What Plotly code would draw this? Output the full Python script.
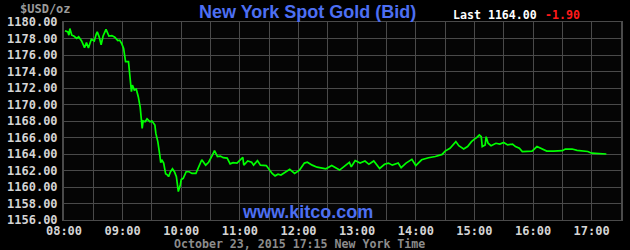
import plotly.graph_objects as go

# ---- data ----
times = ["08:01","08:04","08:05","08:06","08:08","08:10","08:13","08:15","08:18","08:21",
         "08:23","08:25","08:28","08:31","08:33","08:34","08:36","08:38","08:40","08:42",
         "08:43","08:46","08:49","08:52","08:55","08:57","08:59","09:01","09:02","09:03",
         "09:06","09:07","09:08","09:09","09:10","09:12","09:14","09:16","09:18","09:19",
         "09:20","09:21","09:23","09:25","09:28","09:30","09:33","09:34","09:36","09:38",
         "09:39","09:40","09:42","09:44","09:46","09:47","09:49","09:51","09:53","09:55",
         "09:56","09:57","09:59","10:00","10:02","10:04","10:05","10:08","10:11","10:15",
         "10:18","10:21","10:25","10:28","10:32","10:34","10:37","10:40","10:43","10:47",
         "10:50","10:53","10:57","11:00","11:03","11:04","11:08","11:12","11:14","11:18",
         "11:21","11:27","11:30","11:33","11:36","11:39","11:42","11:47","11:51","11:56",
         "12:01","12:06","12:09","12:14","12:19","12:28","12:34","12:42","12:48","12:52",
         "12:54","12:58","13:03","13:08","13:12","13:17","13:23","13:28","13:32","13:36",
         "13:42","13:45","13:50","13:56","14:00","14:06","14:13","14:20","14:27","14:30",
         "14:35","14:38","14:41","14:44","14:49","14:53","14:57","15:00","15:02","15:05",
         "15:07","15:08","15:11","15:12","15:14","15:17","15:22","15:26","15:30","15:34",
         "15:39","15:42","15:46","15:49","15:54","15:59","16:04","16:09","16:14","16:21",
         "16:30","16:33","16:40","16:45","16:51","16:56","17:00","17:14","17:15"]
prices = [1178.95,1178.80,1178.40,1179.20,1178.40,1178.30,1178.00,1178.20,1177.70,1176.90,
          1177.50,1176.85,1177.90,1177.70,1178.55,1178.80,1178.20,1177.25,1178.30,1178.95,
          1179.10,1178.30,1178.35,1178.15,1177.75,1177.80,1177.40,1176.80,1175.70,1175.20,
          1175.20,1174.20,1172.50,1171.55,1172.35,1171.75,1171.85,1170.95,1169.65,1168.00,
          1167.10,1168.00,1167.90,1168.25,1167.90,1168.00,1167.50,1166.50,1165.50,1163.90,
          1162.95,1163.30,1162.90,1161.60,1161.45,1161.25,1161.85,1162.20,1161.85,1161.25,
          1160.25,1159.45,1160.25,1160.90,1161.05,1161.60,1161.85,1161.85,1161.65,1161.65,
          1162.45,1163.30,1162.65,1163.00,1163.90,1164.40,1163.70,1163.75,1163.55,1163.50,
          1162.80,1162.95,1162.90,1163.30,1163.60,1162.65,1163.15,1163.00,1162.65,1163.20,
          1162.65,1162.60,1162.05,1161.65,1161.35,1161.55,1161.45,1161.80,1162.15,1161.65,
          1162.05,1162.90,1163.00,1162.65,1162.40,1162.20,1162.60,1162.05,1162.65,1163.00,
          1162.45,1163.20,1162.90,1163.15,1162.75,1163.15,1162.25,1162.75,1162.90,1162.65,
          1162.90,1162.35,1162.90,1163.35,1162.60,1163.30,1163.55,1163.70,1163.95,1164.35,
          1164.70,1165.10,1165.50,1165.00,1164.60,1164.90,1165.50,1165.80,1165.95,1166.30,
          1166.10,1164.90,1165.10,1166.10,1165.30,1165.00,1165.30,1165.20,1165.40,1165.10,
          1165.20,1164.90,1164.70,1164.30,1164.30,1164.35,1164.90,1164.60,1164.35,1164.35,
          1164.40,1164.60,1164.60,1164.45,1164.40,1164.30,1164.10,1164.05,1164.00]

x_ticks = ["08:00","08:30","09:00","09:30","10:00","10:30","11:00","11:30","12:00","12:30",
           "13:00","13:30","14:00","14:30","15:00","15:30","16:00","16:30","17:00","17:30"]
x_tick_labels = ["08:00","","09:00","","10:00","","11:00","","12:00","",
                 "13:00","","14:00","","15:00","","16:00","","17:00",""]
y_ticks = [1156, 1158, 1160, 1162, 1164, 1166, 1168, 1170, 1172, 1174, 1176, 1178, 1180]

title_text = "New York Spot Gold (Bid)"
last_text = "Last 1164.00"
change_text = "-1.90"
unit_text = "$USD/oz"
site_text = "www.kitco.com"
date_text = "October 23, 2015 17:15 New York Time"

DAY = "2015-10-23 "
xs = [DAY + t for t in times]

# ---- layout geometry ----
W, H = 630, 250
L, R, T, B = 58, 7, 22, 30
PW, PH = W - L - R, H - T - B

def px(x):
    return (x - L) / PW

def py(y):
    return (H - B - y) / PH

mono = "DejaVu Sans Mono"
sans = "Liberation Sans"
grid = "#4a4a4a"

fig = go.Figure()
fig.add_trace(go.Scatter(x=xs, y=prices, mode="lines",
                         line=dict(color="#00ff00", width=1.7),
                         hoverinfo="skip", showlegend=False))

fig.update_layout(
    width=W, height=H,
    margin=dict(l=L, r=R, t=T, b=B, pad=0),
    paper_bgcolor="#000000",
    plot_bgcolor="#050505",
    showlegend=False,
    xaxis=dict(
        range=[DAY + "08:00", DAY + "17:30"],
        tickvals=[DAY + t for t in x_ticks],
        ticktext=x_tick_labels,
        showgrid=True, gridcolor=grid, gridwidth=1,
        showline=True, linecolor=grid, linewidth=1, mirror=True,
        ticks="", zeroline=False,
        tickfont=dict(family=mono, size=12, color="#d4d4d4", weight="bold"),
        fixedrange=True,
    ),
    yaxis=dict(
        range=[1156, 1180],
        tickvals=y_ticks,
        ticktext=["%.2f" % v for v in y_ticks],
        showgrid=True, gridcolor=grid, gridwidth=1,
        showline=True, linecolor=grid, linewidth=2, mirror=True,
        ticks="outside", ticklen=2, tickcolor="#000000",
        zeroline=False,
        tickfont=dict(family=mono, size=12, color="#d4d4d4", weight="bold"),
        fixedrange=True,
    ),
)

ann = [
    dict(text=title_text, x=px(305), y=py(12), xanchor="center", yanchor="middle",
         font=dict(family=sans, size=18, color="#4d6ff2", weight="bold")),
    dict(text=last_text, x=px(451), y=py(15), xanchor="left", yanchor="middle",
         font=dict(family=mono, size=11.6, color="#ffffff", weight="bold")),
    dict(text=change_text, x=px(544), y=py(15), xanchor="left", yanchor="middle",
         font=dict(family=mono, size=11.6, color="#ff1a1a", weight="bold")),
    dict(text=unit_text, x=px(67), y=py(9), xanchor="right", yanchor="middle",
         font=dict(family=mono, size=12, color="#9a9a9a", weight="bold")),
    dict(text=site_text, x=px(305), y=py(212), xanchor="center", yanchor="middle",
         font=dict(family=sans, size=18, color="#4d6ff2", weight="bold")),
    dict(text=date_text, x=px(168), y=py(244), xanchor="left", yanchor="middle",
         font=dict(family=mono, size=11.6, color="#8c8c8c", weight="bold")),
]
for a in ann:
    a.update(xref="paper", yref="paper", showarrow=False)
fig.update_layout(annotations=ann)

fig.write_html("out.html")
